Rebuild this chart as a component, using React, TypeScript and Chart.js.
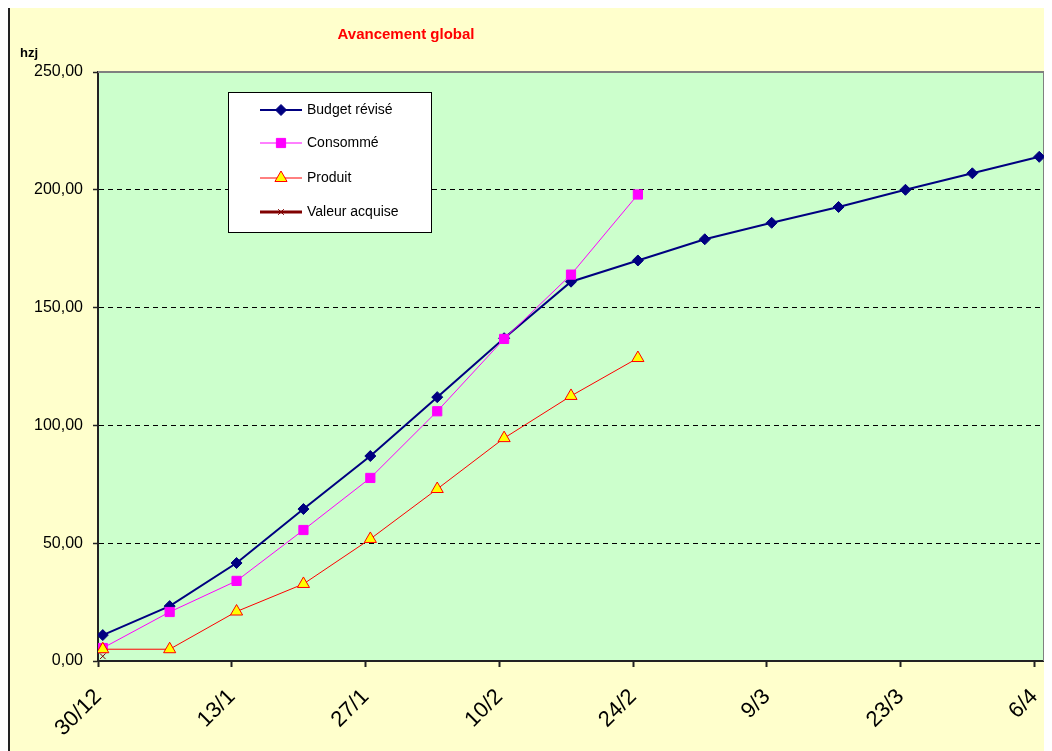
import React, { useEffect, useRef } from 'react';
import { Chart, registerables } from 'chart.js';
import { drawPoint } from 'chart.js/helpers';

Chart.register(...registerables);

// ---- data ----
const weekLabels = ['30/12', '6/1', '13/1', '20/1', '27/1', '3/2', '10/2', '17/2', '24/2', '2/3', '9/3', '16/3', '23/3', '30/3', '6/4'];
const budgetRevise = [11, 23.3, 41.6, 64.5, 87, 112, 137, 161, 170, 179, 186, 192.7, 200, 207, 214];
const consomme = [5.5, 20.8, 34, 55.6, 77.7, 106, 136.7, 164, 198];
const produit = [5, 5, 21, 32.7, 51.8, 73, 94.6, 112.5, 128.6];
const valeurAcquise = [2];
const xTickLabels = ['30/12', '13/1', '27/1', '10/2', '24/2', '9/3', '23/3', '6/4'];
const yTickValues = [0, 50, 100, 150, 200, 250];
const seriesNames = ['Budget révisé', 'Consommé', 'Produit', 'Valeur acquise'];

const DAYS_PER_POINT = 7;
const DAYS_PER_TICK = 14;
const TOTAL_DAYS = 99;

const FONT = "'Liberation Sans', Arial, sans-serif";

// Excel date axis: each point is centred within its day slot
const toXY = (arr: number[]) => arr.map((v, i) => ({ x: i * DAYS_PER_POINT + 0.5, y: v, label: weekLabels[i] }));

const decorPlugin = {
  id: 'decor',
  beforeDraw(chart: any) {
    const { ctx, chartArea: a } = chart;
    ctx.save();
    ctx.fillStyle = '#CCFFCC';
    ctx.fillRect(a.left, a.top, a.right - a.left, a.bottom - a.top);
    // left frame line of the chart object
    ctx.fillStyle = '#222';
    ctx.fillRect(0, 0, 2, chart.height);
    ctx.restore();
  },
  beforeDatasetsDraw(chart: any) {
    const { ctx, chartArea: a } = chart;
    ctx.save();
    ctx.strokeStyle = '#808080';
    ctx.lineWidth = 2;
    ctx.beginPath();
    ctx.moveTo(a.left, a.top);
    ctx.lineTo(a.right, a.top);
    ctx.lineTo(a.right, a.bottom);
    ctx.stroke();
    ctx.restore();
  },
  afterDraw(chart: any) {
    const { ctx } = chart;
    ctx.save();
    // title
    ctx.fillStyle = '#FF0000';
    ctx.font = `bold 15px ${FONT}`;
    ctx.textAlign = 'center';
    ctx.textBaseline = 'middle';
    ctx.fillText('Avancement global', 398, 27);
    // y unit
    ctx.fillStyle = '#000';
    ctx.font = `bold 13px ${FONT}`;
    ctx.textAlign = 'left';
    ctx.fillText('hzj', 12, 45);

    // legend
    const bx = 220, by = 84, bw = 203, bh = 140;
    ctx.fillStyle = '#FFFFFF';
    ctx.fillRect(bx, by, bw, bh);
    ctx.strokeStyle = '#000';
    ctx.lineWidth = 1;
    ctx.strokeRect(bx + 0.5, by + 0.5, bw, bh);
    const rows = [102, 135, 170, 204];
    chart.data.datasets.forEach((ds: any, i: number) => {
      const y = rows[i];
      ctx.strokeStyle = ds.borderColor;
      ctx.lineWidth = ds.borderWidth;
      ctx.beginPath();
      ctx.moveTo(252, y);
      ctx.lineTo(294, y);
      ctx.stroke();
      ctx.fillStyle = ds.pointBackgroundColor;
      ctx.strokeStyle = ds.pointBorderColor;
      ctx.lineWidth = ds.pointBorderWidth;
      drawPoint(ctx, { pointStyle: ds.pointStyle, rotation: 0, radius: ds.pointRadius, borderWidth: ds.pointBorderWidth }, 273, y);
      ctx.fillStyle = '#000';
      ctx.font = `14px ${FONT}`;
      ctx.textAlign = 'left';
      ctx.textBaseline = 'middle';
      ctx.fillText(seriesNames[i], 299, y);
    });
    ctx.restore();
  },
};

export default function App() {
  const ref = useRef<HTMLCanvasElement>(null);
  useEffect(() => {
    if (!ref.current) return;
    const chart = new Chart(ref.current, {
      type: 'line',
      data: {
        datasets: [
          {
            label: seriesNames[0],
            data: toXY(budgetRevise),
            borderColor: '#000080',
            backgroundColor: '#000080',
            borderWidth: 2,
            pointStyle: 'rectRot',
            pointRadius: 5.5,
            pointBackgroundColor: '#000080',
            pointBorderColor: '#000080',
            pointBorderWidth: 1,
            order: 4,
          },
          {
            label: seriesNames[1],
            data: toXY(consomme),
            borderColor: '#FF00FF',
            backgroundColor: '#FF00FF',
            borderWidth: 1,
            pointStyle: 'rect',
            pointRadius: 6.5,
            pointBackgroundColor: '#FF00FF',
            pointBorderColor: '#FF00FF',
            pointBorderWidth: 1,
            order: 3,
          },
          {
            label: seriesNames[2],
            data: toXY(produit),
            borderColor: '#FF0000',
            backgroundColor: '#FFFF00',
            borderWidth: 1,
            pointStyle: 'triangle',
            pointRadius: 7,
            pointBackgroundColor: '#FFFF00',
            pointBorderColor: '#FF0000',
            pointBorderWidth: 1,
            order: 2,
          },
          {
            label: seriesNames[3],
            data: toXY(valeurAcquise),
            borderColor: '#800000',
            backgroundColor: '#800000',
            borderWidth: 3,
            pointStyle: 'crossRot',
            pointRadius: 4,
            pointBackgroundColor: '#800000',
            pointBorderColor: '#800000',
            pointBorderWidth: 1,
            order: 1,
          },
        ] as any,
      },
      options: {
        responsive: false,
        animation: false,
        events: [],
        layout: { padding: { top: 64, right: 8, left: 0, bottom: 0 } },
        plugins: { legend: { display: false }, title: { display: false }, tooltip: { enabled: false } },
        scales: {
          x: {
            type: 'linear',
            min: 0,
            max: TOTAL_DAYS,
            afterBuildTicks: (s: any) => {
              s.ticks = xTickLabels.map((_, i) => ({ value: i * DAYS_PER_TICK }));
            },
            afterFit: (s: any) => {
              s.height = 90;
              s.paddingLeft = 0;
              s.paddingRight = 0;
            },
            ticks: {
              autoSkip: false,
              minRotation: 45,
              maxRotation: 45,
              padding: 17,
              color: '#000',
              font: { family: FONT, size: 22 },
              callback: (v: any) => xTickLabels[Math.round(Number(v) / DAYS_PER_TICK)] ?? '',
            },
            grid: { drawOnChartArea: false, drawTicks: true, tickLength: 6, tickColor: '#222', tickWidth: 2 },
            border: { color: '#222', width: 2 },
          },
          y: {
            type: 'linear',
            min: 0,
            max: 250,
            afterBuildTicks: (s: any) => {
              s.ticks = yTickValues.map((v) => ({ value: v }));
            },
            afterFit: (s: any) => {
              s.width = 90;
            },
            ticks: {
              padding: 10,
              color: '#000',
              font: { family: FONT, size: 16 },
              callback: (v: any) => Number(v).toFixed(2).replace('.', ','),
            },
            grid: {
              color: (c: any) => (c.tick && (c.tick.value === 0 || c.tick.value === 250) ? 'rgba(0,0,0,0)' : '#000'),
              lineWidth: 1,
              tickLength: 5,
              tickColor: '#222',
              tickWidth: 1.5,
            },
            border: { color: '#222', width: 2, dash: [5, 4] },
          },
        },
      } as any,
      plugins: [decorPlugin],
    });
    return () => chart.destroy();
  }, []);
  return (
    <canvas
      ref={ref}
      width={1044}
      height={743}
      style={{ display: 'block', width: 1044, height: 743, background: '#FFFFCC' }}
    />
  );
}
